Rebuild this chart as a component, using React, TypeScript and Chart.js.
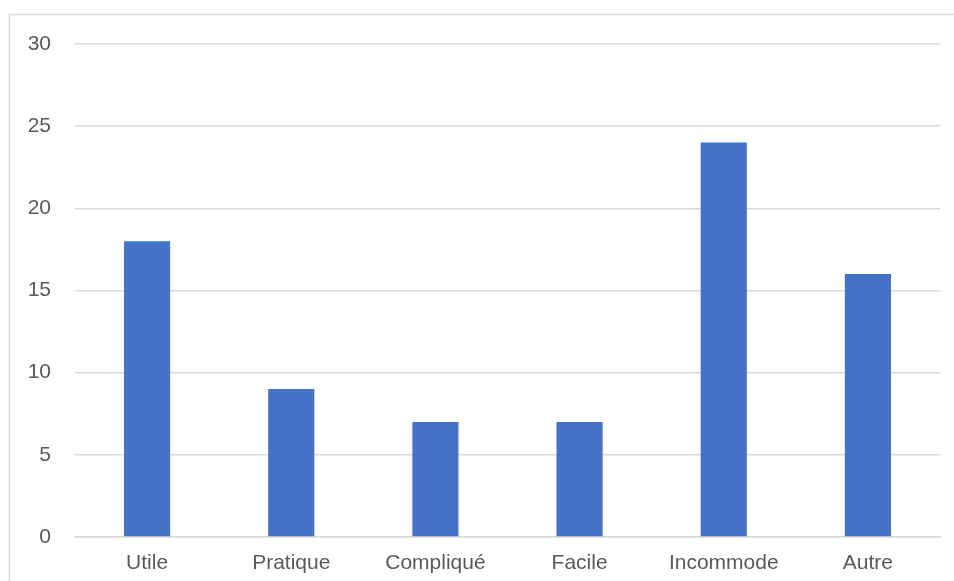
import React, { useEffect, useRef } from "react";
import { Chart, registerables } from "chart.js";

Chart.register(...registerables);

const categories = ["Utile", "Pratique", "Compliqué", "Facile", "Incommode", "Autre"];
const values = [18, 9, 7, 7, 24, 16];
const yMin = 0;
const yMax = 30;
const yStep = 5;

const frame = {
  id: "frame",
  beforeDraw(chart: any) {
    const ctx = chart.ctx;
    ctx.save();
    ctx.fillStyle = "#ffffff";
    ctx.fillRect(0, 0, chart.width, chart.height);
    ctx.strokeStyle = "#d9d9d9";
    ctx.lineWidth = 1.5;
    ctx.beginPath();
    ctx.moveTo(9.5, chart.height);
    ctx.lineTo(9.5, 14.5);
    ctx.lineTo(chart.width, 14.5);
    ctx.stroke();
    ctx.restore();
  },
};

export default function App() {
  const ref = useRef<HTMLCanvasElement>(null);
  useEffect(() => {
    if (!ref.current) return;
    const chart = new Chart(ref.current, {
      type: "bar",
      data: {
        labels: categories,
        datasets: [
          {
            data: values,
            backgroundColor: "#4472c4",
            barPercentage: 0.32,
            categoryPercentage: 1,
          },
        ],
      },
      options: {
        animation: false,
        responsive: false,
        maintainAspectRatio: false,
        layout: { padding: { left: 0, right: 14, top: 44, bottom: 0 } },
        plugins: { legend: { display: false }, tooltip: { enabled: false } },
        scales: {
          x: {
            grid: { display: false },
            border: { display: true, color: "#d9d9d9", width: 1.5 },
            ticks: {
              color: "#595959",
              font: { family: "'Liberation Sans', Arial, sans-serif", size: 21 },
              padding: 6,
              maxRotation: 0,
            },
            afterFit: (s: any) => {
              s.height = 44;
            },
          },
          y: {
            min: yMin,
            max: yMax,
            border: { display: false },
            grid: { color: "#d9d9d9", lineWidth: 1.5, drawTicks: false },
            ticks: {
              stepSize: yStep,
              color: "#595959",
              font: { family: "'Liberation Sans', Arial, sans-serif", size: 21 },
              padding: 24,
            },
            afterFit: (s: any) => {
              s.width = 75;
            },
          },
        },
      },
      plugins: [frame],
    });
    return () => chart.destroy();
  }, []);
  return (
    <canvas
      ref={ref}
      width={954}
      height={581}
      style={{ position: "absolute", left: 0, top: 0, width: 954, height: 581 }}
    />
  );
}
